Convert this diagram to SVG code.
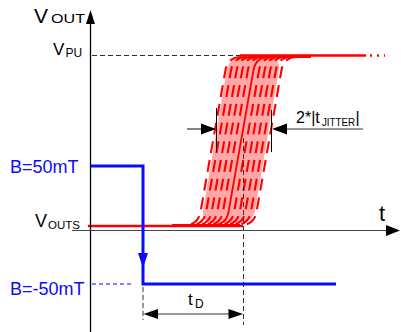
<svg xmlns="http://www.w3.org/2000/svg" xmlns:xlink="http://www.w3.org/1999/xlink" width="401" height="332" viewBox="0 0 401 332">
  <style>
    text { font-family: "Liberation Sans", Arial, sans-serif; fill: #000; }
    .blue { fill: #0a0aff; }
    .ax { stroke: #000; stroke-width: 1.3; fill: none; }
    .dash { stroke: #333; stroke-width: 1; stroke-dasharray: 5 3; fill: none; }
    .head { fill: #000; stroke: none; }
    .red { stroke: #ff0000; stroke-width: 2.6; fill: none; }
    .curve { stroke: #ff0000; stroke-width: 2.1; fill: none; stroke-dasharray: 12 7; }
  </style>
  <defs>
    <path id="crv" d="M 200,225 L 213,225 Q 226,225 228.5,212 L 253.5,70 Q 256,57 269,57 L 283,57"/>
  </defs>

  <g id="jitter-band">
    <path d="M 243,57 L 267,57 Q 281,57 278.7,70.8 L 255.3,209.2 Q 253,223 239,223 L 215,223 Q 201,223 203.3,209.2 L 226.7,70.8 Q 229,57 243,57 Z" fill="#ffa8a8"/>
  </g>

  <g id="output-curves">
    <line class="red" x1="88" y1="226" x2="243" y2="226"/>
    <line class="red" x1="240" y1="55.5" x2="366" y2="55.5"/>
    <line class="red" x1="370" y1="55.5" x2="385" y2="55.5" stroke-dasharray="2 5"/>
    <use xlink:href="#crv" class="curve" transform="translate(-28,0)"/>
    <use xlink:href="#crv" class="curve" transform="translate(-22.4,0)"/>
    <use xlink:href="#crv" class="curve" transform="translate(-16.8,0)"/>
    <use xlink:href="#crv" class="curve" transform="translate(-11.2,0)"/>
    <use xlink:href="#crv" class="curve" transform="translate(-5.6,0)"/>
    <use xlink:href="#crv" class="curve" transform="translate(5.6,0)"/>
    <use xlink:href="#crv" class="curve" transform="translate(11.2,0)"/>
    <use xlink:href="#crv" class="curve" transform="translate(16.8,0)"/>
    <use xlink:href="#crv" class="curve" transform="translate(22.4,0)"/>
    <use xlink:href="#crv" class="curve" transform="translate(28,0)"/>
    <use xlink:href="#crv" stroke="#ff0000" stroke-width="1.8" fill="none"/>
  </g>

  <g id="axes">
    <line class="ax" x1="90.5" y1="22" x2="90.5" y2="332"/>
    <polygon class="head" points="90.5,10 86,24 95,24"/>
    <line x1="72" y1="230.5" x2="388" y2="230.5" stroke="#444" stroke-width="1.2"/>
    <polygon class="head" points="400,230.5 386,225 386,236"/>
  </g>

  <g id="connectors">
    <line class="dash" x1="92" y1="55.5" x2="240" y2="55.5"/>
    <line x1="92" y1="284" x2="134" y2="284" stroke="#0a0aff" stroke-width="1" stroke-dasharray="4 3"/>
    <line class="dash" x1="143" y1="287" x2="143" y2="320"/>
    <line class="dash" x1="243.5" y1="138" x2="243.5" y2="325"/>
    <line x1="150" y1="314" x2="236" y2="314" stroke="#333" stroke-width="1.2"/>
    <polygon class="head" points="143.5,314 158,309 158,319"/>
    <polygon class="head" points="243,314 228.5,309 228.5,319"/>
    <line x1="216.5" y1="108" x2="216.5" y2="152" stroke="#000" stroke-width="1"/>
    <line x1="271.5" y1="110" x2="271.5" y2="152" stroke="#000" stroke-width="1"/>
    <line x1="187" y1="129" x2="204" y2="129" stroke="#333" stroke-width="1.2"/>
    <polygon class="head" points="216,129 201,123.5 201,134.5"/>
    <line x1="284" y1="129" x2="363" y2="129" stroke="#333" stroke-width="1.2"/>
    <polygon class="head" points="272,129 287,123.5 287,134.5"/>
  </g>

  <g id="b-field">
    <polyline points="91,166 143,166 143,284 336,284" fill="none" stroke="#0a0aff" stroke-width="3"/>
    <polygon points="143,268 138,253 148,253" fill="#0a0aff"/>
  </g>

  <g id="labels">
    <text x="34" y="23" font-size="21">V</text>
    <text x="51" y="23" font-size="13" textLength="34" lengthAdjust="spacingAndGlyphs">OUT</text>
    <text x="53" y="55" font-size="17">V</text>
    <text x="65.5" y="57" font-size="12">PU</text>
    <text x="35" y="227" font-size="18">V</text>
    <text x="48" y="229" font-size="11.5">OUTS</text>
    <text class="blue" x="10" y="173" font-size="18">B=50mT</text>
    <text class="blue" x="10" y="295" font-size="18">B=-50mT</text>
    <text x="379" y="221" font-size="22">t</text>
    <text x="188" y="305" font-size="17">t</text>
    <text x="195" y="308" font-size="12">D</text>
    <text x="296" y="123" font-size="16">2*|t</text>
    <text x="322" y="126" font-size="10" textLength="33" lengthAdjust="spacingAndGlyphs">JITTER</text>
    <text x="355.5" y="123" font-size="16">|</text>
  </g>
</svg>
